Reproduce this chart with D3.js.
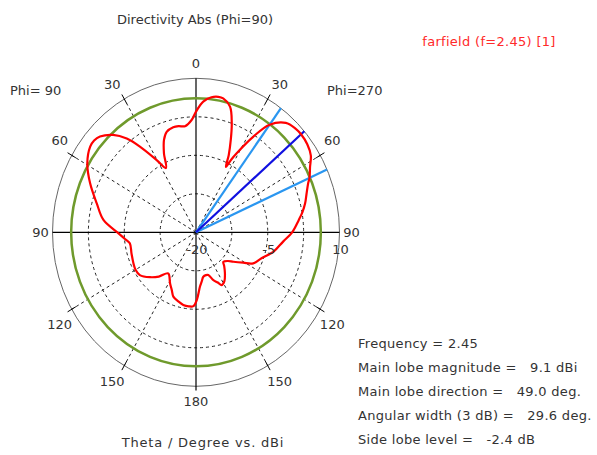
<!DOCTYPE html>
<html>
<head>
<meta charset="utf-8">
<script src="https://cdn.jsdelivr.net/npm/d3@7"></script>
<style>
  body { margin: 0; background: #fff; }
  svg text { font-family: "DejaVu Sans", Verdana, sans-serif; font-size: 13px; fill: #333; }
</style>
</head>
<body>
<div id="chart"></div>
<script>
// angle around the plot, clockwise from top (right half = Phi 270, left half = Phi 90)
var plotAngle = [0, 3.4, 7, 10, 12.3, 16.2, 19.4, 22, 24.5, 26.1, 27.5, 28.9, 32.7, 36.3, 41.4, 46, 49,
  53.6, 58, 62, 65.9, 67.9, 72, 76.1, 80, 83.7, 90, 95.7, 103.2, 110.2, 116.8, 121, 126.3, 130, 135.1,
  138, 142.8, 148, 152.4, 155, 158.7, 162.8, 166, 170, 173, 175.5, 179.3, 182.2, 186, 190.6, 195, 200.7,
  204, 208.7, 215.9, 222, 227.7, 234.6, 240, 245.3, 253, 261.2, 265, 269.3, 277.1, 285.2, 293.3, 300.6,
  307, 310, 312.9, 317.6, 321.6, 324.9, 329.7, 333.3, 336.5, 339.6, 342.6, 346.9, 350, 353.7, 357.6];
var directivity = [3.5, 5.5, 6.5, 6.8, 6.7, 5.5, 2.5, -0.6, -3.5, -5.8, -4.0, -2.4, 2.1, 6.0, 8.4, 9.0, 9.1,
  8.9, 8.3, 7.0, 6.0, 5.3, 4.3, 3.5, 2.6, 1.6, 0.1, -1.7, -3.4, -5.4, -6.6, -8.5, -10.3, -11.3, -11.9,
  -11.2, -10.0, -8.8, -8.4, -9.2, -10.0, -11.3, -11.4, -11.2, -10.3, -9.4, -6.8, -5.6, -5.5, -5.6, -6.0, -6.6,
  -7.6, -8.7, -10.1, -8.4, -7.0, -5.6, -5.4, -5.6, -5.9, -6.0, -5.1, -3.8, -0.5, 1.5, 4.1, 6.4,
  7.7, 7.8, 7.4, 5.7, 3.3, 0.4, -3.7, -6.0, -3.2, -0.8, 0.5, 1.0, 1.0, 0.8, 1.9];

var angleTicks = [0, 30, 60, 90, 120, 150, 180, 210, 240, 270, 300, 330];
var angleLabels = ["0", "30", "60", "90", "120", "150", "180", "150", "120", "90", "60", "30"];
var ringTicks = [-20, -12.5, -5, 2.5, 10];
var ringLabels = [-20, -5, 10];

var mainLobeDir = 49.0;
var beamEdges = [36.3, 65.9];
var threeDbLevel = 6.1;

var infoLines = ["Frequency = 2.45", "Main lobe magnitude =   9.1 dBi", "Main lobe direction =   49.0 deg.",
  "Angular width (3 dB) =   29.6 deg.", "Side lobe level =   -2.4 dB"];

var width = 597, height = 455;
var cx = 196, cy = 232.3, Rx = 143.5, Ry = 154;

var svg = d3.select("#chart").append("svg")
  .attr("width", width).attr("height", height);

var rX = d3.scaleLinear().domain([-20, 10]).range([0, Rx]);
var rY = d3.scaleLinear().domain([-20, 10]).range([0, Ry]);
var rad = d3.scaleLinear().domain([0, 360]).range([0, 2 * Math.PI]);

function px(a, v) { return cx + rX(v) * Math.sin(rad(a)); }
function py(a, v) { return cy - rY(v) * Math.cos(rad(a)); }

// dashed rings
svg.selectAll(".ring")
  .data(ringTicks.slice(1, 4))
  .enter().append("ellipse")
  .attr("cx", cx).attr("cy", cy)
  .attr("rx", d => rX(d)).attr("ry", d => rY(d))
  .attr("fill", "none").attr("stroke", "#222")
  .attr("stroke-dasharray", "3,3").attr("stroke-width", 1);

// dashed spokes
svg.selectAll(".spoke")
  .data(angleTicks.filter(a => a % 90 !== 0))
  .enter().append("line")
  .attr("x1", cx).attr("y1", cy)
  .attr("x2", a => px(a, 10)).attr("y2", a => py(a, 10))
  .attr("stroke", "#222").attr("stroke-dasharray", "3,3").attr("stroke-width", 1);

// outer ring
svg.append("ellipse")
  .attr("cx", cx).attr("cy", cy).attr("rx", rX(10)).attr("ry", rY(10))
  .attr("fill", "none").attr("stroke", "#666").attr("stroke-width", 1);

// ticks on outer ring
svg.selectAll(".tick")
  .data(angleTicks.filter(a => a % 90 !== 0))
  .enter().append("line")
  .attr("x1", a => px(a, 9)).attr("y1", a => py(a, 9))
  .attr("x2", a => px(a, 11)).attr("y2", a => py(a, 11))
  .attr("stroke", "#000").attr("stroke-width", 1);

// main axes
svg.append("line")
  .attr("x1", px(270, 10)).attr("y1", cy).attr("x2", px(90, 10)).attr("y2", cy)
  .attr("stroke", "#000").attr("stroke-width", 1.2);
svg.append("line")
  .attr("x1", cx).attr("y1", py(0, 10)).attr("x2", cx).attr("y2", py(180, 10.8))
  .attr("stroke", "#000").attr("stroke-width", 1.2);

// 3 dB circle
svg.append("ellipse")
  .attr("cx", cx).attr("cy", cy).attr("rx", rX(threeDbLevel)).attr("ry", rY(threeDbLevel))
  .attr("fill", "none").attr("stroke", "#6f9a2c").attr("stroke-width", 2.5);

// beam lines
svg.selectAll(".beam")
  .data(beamEdges)
  .enter().append("line")
  .attr("x1", cx).attr("y1", cy)
  .attr("x2", a => px(a, 10)).attr("y2", a => py(a, 10))
  .attr("stroke", "#2a96f0").attr("stroke-width", 2.2);
svg.append("line")
  .attr("x1", cx).attr("y1", cy)
  .attr("x2", px(mainLobeDir, 10)).attr("y2", py(mainLobeDir, 10))
  .attr("stroke", "#1010e0").attr("stroke-width", 2.2);

// pattern
var pts = plotAngle.map((a, i) => [a, directivity[i]]);
var line = d3.line()
  .x(d => px(d[0], d[1]))
  .y(d => py(d[0], d[1]))
  .curve(d3.curveCatmullRomClosed.alpha(0.5));
svg.append("path")
  .datum(pts)
  .attr("d", line)
  .attr("fill", "none").attr("stroke", "#ff0000").attr("stroke-width", 2.2);

// angle labels
function sgn(v) { return Math.abs(v) < 1e-6 ? 0 : (v > 0 ? 1 : -1); }
svg.selectAll(".alabel")
  .data(angleTicks)
  .enter().append("text")
  .attr("x", (a, i) => px(a, 10) + 12 * sgn(Math.sin(rad(a))))
  .attr("y", (a, i) => py(a, 10) - 15 * sgn(Math.cos(rad(a))) + 5)
  .attr("text-anchor", "middle")
  .text((a, i) => angleLabels[i]);

// ring labels
svg.selectAll(".rlabel")
  .data(ringLabels)
  .enter().append("text")
  .attr("x", d => cx + rX(d) + 1)
  .attr("y", cy + 22)
  .attr("text-anchor", "middle")
  .text(d => d);

// titles
svg.append("text").attr("x", 195).attr("y", 24).attr("text-anchor", "middle")
  .text("Directivity Abs (Phi=90)");
svg.append("text").attr("x", 489).attr("y", 46).attr("text-anchor", "middle")
  .style("fill", "#ff2a2a").style("letter-spacing", "0.3px").text("farfield (f=2.45) [1]");
svg.append("text").attr("x", 10).attr("y", 95).text("Phi= 90");
svg.append("text").attr("x", 327).attr("y", 95).text("Phi=270");
svg.append("text").attr("x", 203).attr("y", 447).attr("text-anchor", "middle")
  .style("letter-spacing", "0.8px")
  .text("Theta / Degree vs. dBi");

// info block
svg.selectAll(".info")
  .data(infoLines)
  .enter().append("text")
  .attr("x", 358)
  .attr("y", (d, i) => 348 + i * 24)
  .attr("xml:space", "preserve")
  .style("white-space", "pre")
  .style("letter-spacing", "0.3px")
  .text(d => d);
</script>
</body>
</html>
